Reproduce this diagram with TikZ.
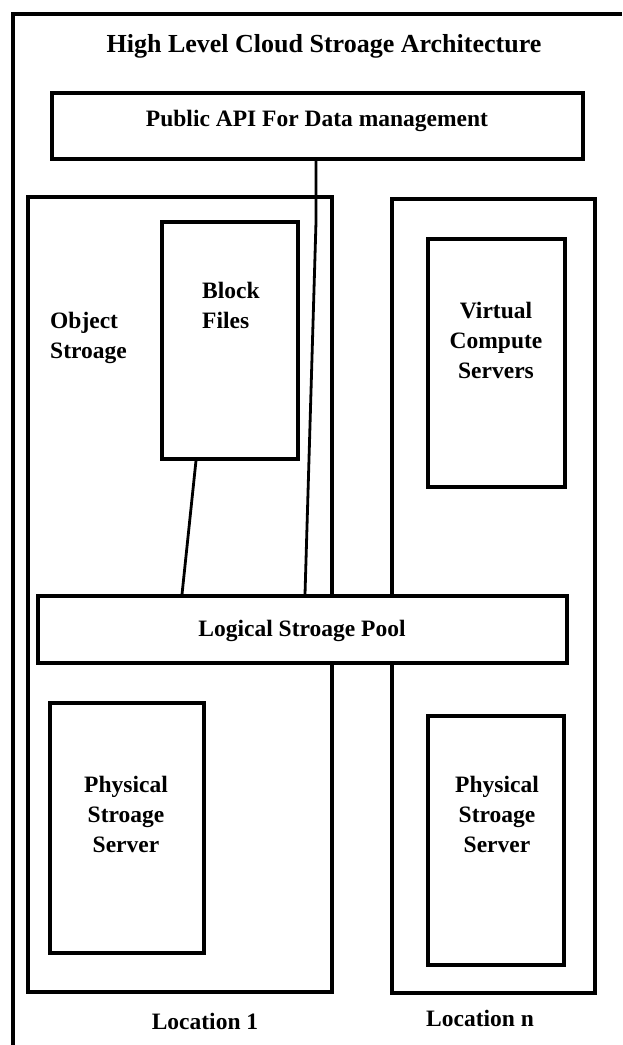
\documentclass[tikz,border=0pt]{standalone}
\usepackage{fontspec}
\setmainfont{Liberation Serif}
\begin{document}
\begin{tikzpicture}[x=1pt,y=-1pt,line join=miter,
  box/.style={draw,line width=3.2pt,inner sep=0pt},
  txt/.style={font=\bfseries\fontsize{23.5}{30}\selectfont,inner sep=0pt,align=center},
  ttl/.style={font=\bfseries\fontsize{26}{30}\selectfont,inner sep=0pt},
  link/.style={line width=2.8pt}]
\useasboundingbox (0,0) rectangle (622,1045);
\fill[white] (0,0) rectangle (622,1045);
% outer frame (only top and left edges are visible)
\draw[line width=3.4pt] (13,1045) -- (13,14) -- (622,14);

\node[ttl] (title) at (324,46) {High Level Cloud Stroage Architecture};

\node[box,minimum width=531pt,minimum height=66pt] (api) at (317.5,126) {};
\node[txt] (apit) at (317,121) {Public API For Data management};

\node[box,minimum width=304pt,minimum height=795pt] (loc1) at (180,594.5) {};
\node[box,minimum width=203pt,minimum height=794pt] (locn) at (493.5,596) {};

\node[box,minimum width=136pt,minimum height=237pt] (block) at (230,340.5) {};
\node[txt,align=left,anchor=west] (blockt) at (202,305) {Block\\Files};

\node[txt,align=left,anchor=west] (objt) at (50,338) {Object\\Stroage};

\node[box,minimum width=137pt,minimum height=248pt] (virt) at (496.5,363) {};
\node[txt] (virtt) at (496,340) {Virtual\\Compute\\Servers};

\node[box,fill=white,minimum width=529pt,minimum height=67pt] (pool) at (302.5,629.5) {};
\node[txt] (poolt) at (302,631) {Logical Stroage Pool};

\node[box,minimum width=154pt,minimum height=250pt] (phys1) at (127,828) {};
\node[txt] (phys1t) at (126,814) {Physical\\Stroage\\Server};

\node[box,minimum width=136pt,minimum height=249pt] (phys2) at (496,840.5) {};
\node[txt] (phys2t) at (497,814) {Physical\\Stroage\\Server};

\node[txt] (l1) at (205,1021) {Location 1};
\node[txt] (ln) at (480,1018) {Location n};

% connectors
\coordinate (a1) at (316,0);
\coordinate (k1) at (316,222);
\coordinate (a2) at (305,0);
\coordinate (b1) at (196,0);
\coordinate (b2) at (182,0);
\draw[link] (api.south -| a1) -- (k1) -- (pool.north -| a2);
\draw[link] (block.south -| b1) -- (pool.north -| b2);
\end{tikzpicture}
\end{document}
